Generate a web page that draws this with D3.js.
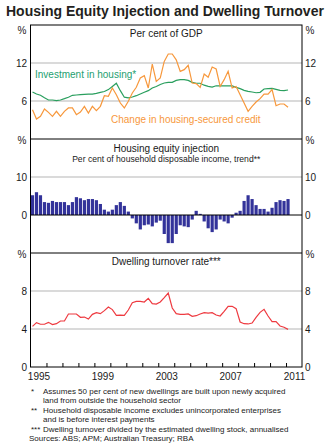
<!DOCTYPE html>
<html>
  <head>
    <script src="https://d3js.org/d3.v7.min.js"></script>
    <style>
      body { margin: 0; background: #fff; }
      text { font-family: Arial, "Liberation Sans", sans-serif; fill: #1a1a1a; }
    </style>
  </head>
  <body>
    <div id="chart"></div>
    <script>
      // quarterly series, 1995:Q1 to 2011:Q1
      const startYear = 1995;
      const investment = [
        7.42, 7.1, 6.9, 6.5, 6.16, 6.16, 6.05, 6.16, 6.37, 6.6,
        6.9, 6.95, 7.0, 7.05, 7.1, 7.1, 7.2, 7.37, 7.5, 7.8,
        8.3, 8.8, 7.63, 6.6, 6.5, 6.63, 6.84, 7.1, 7.37, 7.63,
        8.05, 8.3, 8.6, 8.84, 8.95, 8.95, 9.26, 9.37, 9.37, 9.26,
        8.95, 8.8, 8.8, 8.5, 8.3, 8.2, 8.4, 8.4, 8.4, 8.4,
        8.4, 8.16, 7.95, 7.68, 7.53, 7.42, 7.3, 7.37, 7.9, 7.95,
        8.0, 7.84, 7.68, 7.63, 7.74
      ];
      const credit = [
        4.63, 3.16, 3.58, 4.74, 4.2, 3.58, 4.37, 3.58, 4.37, 4.9,
        4.9, 3.84, 4.26, 5.16, 4.1, 5.16, 4.47, 5.16, 6.84, 6.74,
        8.05, 7.0, 5.68, 4.9, 5.95, 7.26, 8.16, 9.63, 10.0, 8.05,
        11.84, 9.1, 9.63, 12.26, 13.42, 13.42, 12.5, 10.68, 10.95, 11.63,
        8.84, 8.74, 8.16, 10.26, 9.74, 11.37, 11.05, 8.3, 9.37, 10.68,
        8.05, 8.3, 7.0, 5.68, 4.37, 5.16, 5.84, 6.37, 7.1, 7.1,
        7.8, 5.26, 5.53, 5.53, 5.0
      ];
      const equity = [
        5.2, 6.0, 5.2, 3.4, 3.2, 3.7, 3.4, 3.4, 3.4, 2.6,
        3.4, 4.7, 4.4, 3.9, 4.2, 4.2, 3.9, 2.9, 1.4, 0.9,
        1.4, 2.6, 3.4, 2.4, 0.9, -0.9, -2.2, -3.8, -2.7, -2.5,
        -3.0, -2.0, -1.5, -5.0, -7.4, -7.4, -5.0, -2.7, -3.0, -3.2,
        -1.2, 1.1, 0.3, -1.7, -3.5, -4.5, -3.8, -1.2, -1.7, -2.2,
        -0.7, 0.6, 1.1, 3.7, 5.2, 4.2, 2.6, 1.6, 1.6, 0.9,
        1.9, 3.4, 3.9, 3.7, 4.2
      ];
      const turnover = [
        4.28, 4.67, 4.5, 4.5, 4.7, 4.46, 4.56, 4.84, 4.84, 5.58,
        5.58, 5.58, 5.23, 5.26, 5.05, 5.54, 5.72, 5.61, 5.93, 6.32,
        6.04, 5.44, 5.47, 5.44, 6.0, 6.77, 6.91, 6.91, 6.84, 7.23,
        6.67, 6.63, 6.84, 7.3, 7.79, 6.21, 5.61, 5.54, 5.54, 5.58,
        5.33, 5.4, 5.58, 5.72, 5.68, 5.72, 5.47, 5.37, 5.86, 6.39,
        6.39, 6.14, 4.74, 4.56, 4.53, 4.63, 5.23, 5.75, 6.07, 5.37,
        4.77, 4.77, 4.32, 4.18, 3.96
      ];
      const yearLabels = [1995, 1999, 2003, 2007, 2011];
      const gdpTicks = [6, 12];
      const equityTicks = [0, 10];
      const turnoverTicks = [0, 4, 8];

      const width = 332, height = 447;
      const plotLeft = 30.5, plotRight = 302, plotTop = 25, panelH = 114;

      // mid-quarter position for observation i
      const qTime = (i) => startYear + (i + 0.5) / 4;

      const svg = d3.select("#chart").append("svg")
        .attr("width", width).attr("height", height);

      svg.append("text")
        .attr("x", 6).attr("y", 16)
        .style("font-size", "14px").style("font-weight", "bold")
        .style("fill", "#231f20")
        .text("Housing Equity Injection and Dwelling Turnover");

      const x = d3.scaleLinear().domain([1995, 2012]).range([plotLeft, plotRight]);

      const y1 = d3.scaleLinear().domain([0, 18]).range([plotTop + panelH, plotTop]);
      const y2 = d3.scaleLinear().domain([-10, 20]).range([plotTop + 2 * panelH, plotTop + panelH]);
      const y3 = d3.scaleLinear().domain([0, 12]).range([plotTop + 3 * panelH, plotTop + 2 * panelH]);

      function grid(scale, values) {
        svg.append("g").selectAll("line").data(values).enter().append("line")
          .attr("x1", plotLeft).attr("x2", plotRight)
          .attr("y1", (d) => scale(d)).attr("y2", (d) => scale(d))
          .attr("stroke", "#b5b5b5").attr("stroke-width", 1);
      }

      function sideAxes(scale, values) {
        const l = svg.append("g").attr("transform", `translate(${plotLeft},0)`)
          .call(d3.axisLeft(scale).tickValues(values).tickSize(0).tickPadding(3.5));
        const r = svg.append("g").attr("transform", `translate(${plotRight},0)`)
          .call(d3.axisRight(scale).tickValues(values).tickSize(0).tickPadding(3));
        [l, r].forEach((g) => {
          g.select(".domain").remove();
          g.selectAll("text").style("font-size", "10px").style("font-family", null).attr("fill", "#1a1a1a");
        });
      }

      function percent(yPos) {
        svg.append("text").attr("x", 22).attr("y", yPos).attr("dy", "0.35em")
          .attr("text-anchor", "middle").style("font-size", "10px").text("%");
        svg.append("text").attr("x", 310).attr("y", yPos).attr("dy", "0.35em")
          .attr("text-anchor", "middle").style("font-size", "10px").text("%");
      }

      function panelTitle(text, yPos, size) {
        svg.append("text").attr("x", (plotLeft + plotRight) / 2).attr("y", yPos)
          .attr("text-anchor", "middle").style("font-size", size + "px").text(text);
      }

      // panel 1: per cent of GDP
      grid(y1, gdpTicks);
      sideAxes(y1, gdpTicks);
      percent(30);
      panelTitle("Per cent of GDP", 37, 10);

      const line1 = d3.line().x((d, i) => x(qTime(i))).y((d) => y1(d));
      svg.append("path").datum(investment).attr("d", line1)
        .attr("fill", "none").attr("stroke", "#2a9f5e").attr("stroke-width", 1.2);
      svg.append("path").datum(credit).attr("d", line1)
        .attr("fill", "none").attr("stroke", "#f7983c").attr("stroke-width", 1.2);

      svg.append("text").attr("x", 35).attr("y", 77.5)
        .style("font-size", "10px").style("fill", "#24a070").text("Investment in housing*");
      svg.append("text").attr("x", 111).attr("y", 122.5)
        .style("font-size", "10px").style("fill", "#f7983c").text("Change in housing-secured credit");

      // panel 2: housing equity injection
      grid(y2, [10]);
      sideAxes(y2, equityTicks);
      percent(140);
      panelTitle("Housing equity injection", 151.5, 10);
      panelTitle("Per cent of household disposable income, trend**", 161.5, 8.6);

      const barW = (x(1995.25) - x(1995)) * 0.8;
      svg.append("g").selectAll("rect").data(equity).enter().append("rect")
        .attr("x", (d, i) => x(qTime(i)) - barW / 2)
        .attr("width", barW)
        .attr("y", (d) => y2(Math.max(0, d)))
        .attr("height", (d) => Math.abs(y2(d) - y2(0)))
        .attr("fill", "#33339a");
      svg.append("line").attr("x1", plotLeft).attr("x2", plotRight)
        .attr("y1", y2(0)).attr("y2", y2(0))
        .attr("stroke", "#000").attr("stroke-width", 1);

      // panel 3: dwelling turnover
      grid(y3, [4, 8]);
      sideAxes(y3, turnoverTicks);
      percent(254.5);
      panelTitle("Dwelling turnover rate***", 264.5, 10);

      const line3 = d3.line().x((d, i) => x(qTime(i))).y((d) => y3(d));
      svg.append("path").datum(turnover).attr("d", line3)
        .attr("fill", "none").attr("stroke", "#ee3a40").attr("stroke-width", 1.2);

      // frame and panel dividers
      svg.append("rect").attr("x", plotLeft).attr("y", plotTop)
        .attr("width", plotRight - plotLeft).attr("height", 3 * panelH)
        .attr("fill", "none").attr("stroke", "#000").attr("stroke-width", 1);
      [1, 2].forEach((k) => {
        svg.append("line").attr("x1", plotLeft).attr("x2", plotRight)
          .attr("y1", plotTop + k * panelH).attr("y2", plotTop + k * panelH)
          .attr("stroke", "#000").attr("stroke-width", 1);
      });

      // year ticks on the base, labels centred within each year
      const base = plotTop + 3 * panelH;
      svg.append("g").attr("transform", `translate(0,${base})`)
        .call(d3.axisBottom(x).tickValues(d3.range(1996, 2012)).tickSize(-4).tickFormat(""))
        .call((g) => g.select(".domain").remove())
        .selectAll("line").attr("stroke", "#000");
      const xl = svg.append("g").attr("transform", `translate(0,${base})`)
        .call(d3.axisBottom(x).tickValues(yearLabels.map((d) => d + 0.5))
          .tickSize(0).tickPadding(5.5).tickFormat((d) => Math.floor(d)));
      xl.select(".domain").remove();
      xl.selectAll("text").style("font-size", "10px").style("font-family", null).attr("fill", "#1a1a1a");

      // footnotes
      const notes = [
        ["*", "Assumes 50 per cent of new dwellings are built upon newly acquired"],
        ["", "land from outside the household sector"],
        ["**", "Household disposable income excludes unincorporated enterprises"],
        ["", "and is before interest payments"],
        ["***", "Dwelling turnover divided by the estimated dwelling stock, annualised"]
      ];
      const fn = svg.append("g").style("font-size", "8px");
      notes.forEach((n, i) => {
        const yy = 394 + i * 9.4;
        fn.append("text").attr("x", 31).attr("y", yy).text(n[0]);
        fn.append("text").attr("x", 43).attr("y", yy).text(n[1]);
      });
      fn.append("text").attr("x", 29).attr("y", 394 + 5 * 9.4)
        .text("Sources: ABS; APM; Australian Treasury; RBA");
    </script>
  </body>
</html>
